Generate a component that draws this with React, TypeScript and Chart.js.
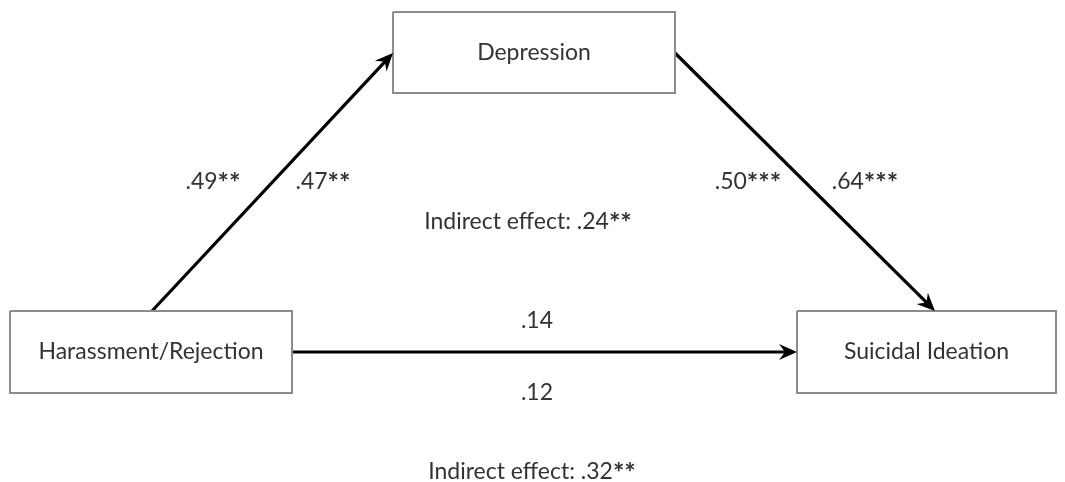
import React, { useEffect, useRef } from "react";
import { Chart, registerables } from "chart.js";

Chart.register(...registerables);

// Diagram layout space: x 0..1065, y 0..482 (top to bottom)
const nodeNames = ["Depression", "Harassment/Rejection", "Suicidal Ideation"];
const nodeLeft = [393, 10, 797];
const nodeRight = [675, 292, 1056];
const nodeTop = [12, 311, 311];
const nodeBottom = [93, 393, 393];

const pathFromX = [152, 675, 292];
const pathFromY = [311, 53, 352];
const pathToX = [393, 935, 797];
const pathToY = [53, 311, 352];

const coefTexts = [".49**", ".47**", ".50***", ".64***", "Indirect effect: .24**", ".14", ".12", "Indirect effect: .32**"];
const coefX = [213, 323, 748, 865, 528, 537, 537, 532];
const coefY = [182, 182, 182, 182, 222, 321, 393, 472];

const FONT = "Lato, 'Open Sans', sans-serif";
const TEXT_COLOR = "#333333";

export default function App() {
  const ref = useRef<HTMLCanvasElement | null>(null);

  useEffect(() => {
    document.body.style.margin = "0";
    const canvas = ref.current;
    if (!canvas) return;

    const boxSets = nodeNames.map((name, i) => ({
      label: name,
      type: "line" as const,
      data: [
        { x: nodeLeft[i], y: nodeTop[i] },
        { x: nodeRight[i], y: nodeTop[i] },
        { x: nodeRight[i], y: nodeBottom[i] },
        { x: nodeLeft[i], y: nodeBottom[i] },
        { x: nodeLeft[i], y: nodeTop[i] },
      ],
      borderColor: "#8c8c8c",
      borderWidth: 2,
      pointRadius: 0,
      fill: false,
      tension: 0,
    }));

    const pathSets = pathFromX.map((_, i) => {
      const a = Math.atan2(pathToY[i] - pathFromY[i], pathToX[i] - pathFromX[i]);
      return {
        label: "path" + i,
        type: "line" as const,
        data: [
          { x: pathFromX[i], y: pathFromY[i] },
          { x: pathToX[i] - 10 * Math.cos(a), y: pathToY[i] - 10 * Math.sin(a) },
        ],
        borderColor: "#000000",
        borderWidth: 3.2,
        pointRadius: 0,
        fill: false,
      };
    });

    const drawText = (ctx: any, text: string, x: number, y: number) => {
      // split trailing asterisks so they can be drawn larger, like the original
      const m = text.match(/^(.*?)(\*+)$/);
      const main = m ? m[1] : text;
      const stars = m ? m[2] : "";
      ctx.font = `23px ${FONT}`;
      const w1 = ctx.measureText(main).width;
      ctx.font = `bold 27px ${FONT}`;
      const w2 = stars ? ctx.measureText(stars).width : 0;
      const start = x - (w1 + w2) / 2;
      ctx.textAlign = "left";
      ctx.textBaseline = "middle";
      ctx.font = `23px ${FONT}`;
      ctx.fillText(main, start, y);
      if (stars) {
        ctx.font = `bold 27px ${FONT}`;
        ctx.fillText(stars, start + w1, y + 1);
      }
    };

    const overlay = {
      id: "overlay",
      afterDatasetsDraw(chart: any) {
        const ctx = chart.ctx;
        const xs = chart.scales.x;
        const ys = chart.scales.y;
        ctx.save();
        for (let i = 0; i < pathToX.length; i++) {
          const tx = xs.getPixelForValue(pathToX[i]);
          const ty = ys.getPixelForValue(pathToY[i]);
          const fx = xs.getPixelForValue(pathFromX[i]);
          const fy = ys.getPixelForValue(pathFromY[i]);
          const a = Math.atan2(ty - fy, tx - fx);
          const len = 18;
          const half = 8;
          const notch = 12;
          const bx = tx - len * Math.cos(a);
          const by = ty - len * Math.sin(a);
          const nx = -Math.sin(a);
          const ny = Math.cos(a);
          ctx.beginPath();
          ctx.moveTo(tx, ty);
          ctx.lineTo(bx + nx * half, by + ny * half);
          ctx.lineTo(tx - notch * Math.cos(a), ty - notch * Math.sin(a));
          ctx.lineTo(bx - nx * half, by - ny * half);
          ctx.closePath();
          ctx.fillStyle = "#000000";
          ctx.fill();
        }
        ctx.fillStyle = TEXT_COLOR;
        for (let i = 0; i < nodeNames.length; i++) {
          const cx = xs.getPixelForValue((nodeLeft[i] + nodeRight[i]) / 2);
          const cy = ys.getPixelForValue((nodeTop[i] + nodeBottom[i]) / 2);
          drawText(ctx, nodeNames[i], cx, cy);
        }
        for (let i = 0; i < coefTexts.length; i++) {
          drawText(ctx, coefTexts[i], xs.getPixelForValue(coefX[i]), ys.getPixelForValue(coefY[i]));
        }
        ctx.restore();
      },
    };

    const chart = new Chart(canvas, {
      type: "scatter",
      data: { datasets: [...boxSets, ...pathSets] as any },
      options: {
        animation: false,
        responsive: false,
        maintainAspectRatio: false,
        layout: { padding: 0 },
        plugins: { legend: { display: false }, tooltip: { enabled: false } },
        events: [],
        scales: {
          x: { type: "linear", min: 0, max: 1065, display: false },
          y: { type: "linear", min: 0, max: 482, reverse: true, display: false },
        },
      },
      plugins: [overlay],
    });

    return () => chart.destroy();
  }, []);

  return (
    <div style={{ position: "absolute", left: 0, top: 0, width: 1065, height: 482, background: "#ffffff" }}>
      <canvas ref={ref} width={1065} height={482} style={{ width: 1065, height: 482 }} />
    </div>
  );
}
